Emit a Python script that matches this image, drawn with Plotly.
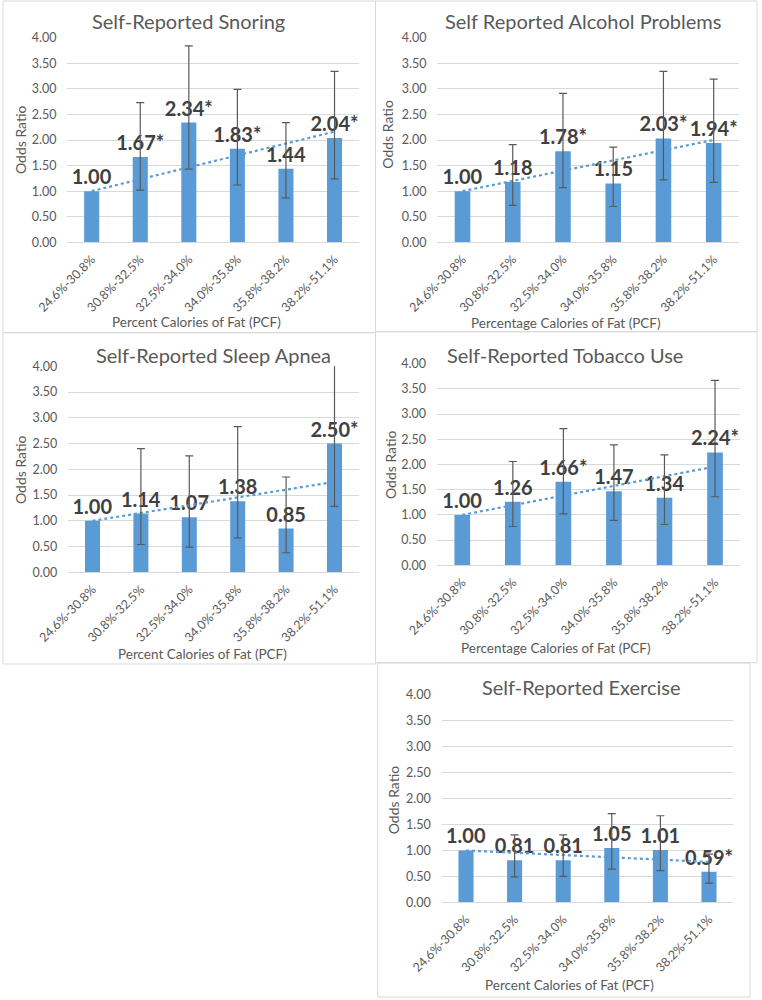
import plotly.graph_objects as go

# ---------------- data ----------------
categories = ["24.6%-30.8%", "30.8%-32.5%", "32.5%-34.0%", "34.0%-35.8%", "35.8%-38.2%", "38.2%-51.1%"]

snoring_or = [1.00, 1.67, 2.34, 1.83, 1.44, 2.04]
snoring_lo = [None, 1.02, 1.43, 1.12, 0.87, 1.24]
snoring_hi = [None, 2.73, 3.84, 2.99, 2.34, 3.34]
snoring_sig = [False, True, True, True, False, True]

alcohol_or = [1.00, 1.18, 1.78, 1.15, 2.03, 1.94]
alcohol_lo = [None, 0.72, 1.07, 0.70, 1.22, 1.17]
alcohol_hi = [None, 1.91, 2.91, 1.86, 3.34, 3.19]
alcohol_sig = [False, False, True, False, True, True]

apnea_or = [1.00, 1.14, 1.07, 1.38, 0.85, 2.50]
apnea_lo = [None, 0.54, 0.49, 0.67, 0.38, 1.28]
apnea_hi = [None, 2.40, 2.26, 2.83, 1.85, 4.88]
apnea_sig = [False, False, False, False, False, True]

tobacco_or = [1.00, 1.26, 1.66, 1.47, 1.34, 2.24]
tobacco_lo = [None, 0.77, 1.02, 0.89, 0.81, 1.36]
tobacco_hi = [None, 2.06, 2.71, 2.39, 2.19, 3.67]
tobacco_sig = [False, False, True, False, False, True]

exercise_or = [1.00, 0.81, 0.81, 1.05, 1.01, 0.59]
exercise_lo = [None, 0.49, 0.50, 0.64, 0.61, 0.37]
exercise_hi = [None, 1.30, 1.30, 1.71, 1.67, 0.93]
exercise_sig = [False, False, False, False, False, True]

titles = ["Self-Reported Snoring", "Self Reported Alcohol Problems", "Self-Reported Sleep Apnea",
          "Self-Reported Tobacco Use", "Self-Reported Exercise"]
xtitles = ["Percent Calories of Fat (PCF)", "Percentage Calories of Fat (PCF)", "Percent Calories of Fat (PCF)",
           "Percentage Calories of Fat (PCF)", "Percent Calories of Fat (PCF)"]
ytitle = "Odds Ratio"
yticks = [0.0, 0.5, 1.0, 1.5, 2.0, 2.5, 3.0, 3.5, 4.0]

# ---------------- layout geometry (pixels) ----------------
W, H = 762, 1000
plot_boxes = [  # x0, x1, y0, y1
    (67.4, 358.8, 37.7, 242.3),
    (437.4, 738.8, 37.7, 242.3),
    (68.3, 358.7, 366.3, 572.3),
    (437.0, 740.3, 363.7, 565.3),
    (441.7, 733.3, 695.0, 902.3),
]
panel_boxes = [
    (3, 375.5, 1, 332.7),
    (375.5, 757, 1, 331.7),
    (3, 375.5, 332.7, 664),
    (375.5, 757, 331.7, 662.7),
    (377.7, 750, 663, 997),
]
title_pos = [(188.8, 20.7), (582.5, 20.7), (213.3, 355.3), (565, 354.7), (581.7, 686.7)]
xtitle_pos = [(196.7, 321.7), (565.8, 322.7), (202.5, 654), (555.8, 648), (569, 985)]
ytitle_pos = [(20, 140), (386.7, 134), (20, 470), (390, 465), (393.3, 800)]

FONT = "Lato"
TXT = "#595959"
BAR = "#5B9BD5"
GRID = "#D9D9D9"

panels = [
    (snoring_or, snoring_lo, snoring_hi, snoring_sig),
    (alcohol_or, alcohol_lo, alcohol_hi, alcohol_sig),
    (apnea_or, apnea_lo, apnea_hi, apnea_sig),
    (tobacco_or, tobacco_lo, tobacco_hi, tobacco_sig),
    (exercise_or, exercise_lo, exercise_hi, exercise_sig),
]

def px(x):
    return x / W

def py(y):
    return 1 - y / H

fig = go.Figure()
annotations = []
shapes = []

for k, (ors, los, his, sig) in enumerate(panels):
    n = "" if k == 0 else str(k + 1)
    xa, ya = "x" + n, "y" + n
    labels = [f"{v:.2f}" + ("*" if s else "") for v, s in zip(ors, sig)]

    fig.add_trace(go.Bar(
        x=categories, y=ors, xaxis=xa, yaxis=ya,
        marker=dict(color=BAR, line=dict(width=0)),
        text=labels, textposition="outside", constraintext="none", cliponaxis=False,
        textfont=dict(family=FONT, size=20, color="#404040", weight="bold"),
        showlegend=False, hoverinfo="skip",
    ))

    # linear trendline anchored at the reference category
    y0 = ors[0]
    num = sum(i * (v - y0) for i, v in enumerate(ors))
    den = sum(i * i for i in range(len(ors)))
    slope = num / den
    trend = [y0 + i * slope for i in range(len(ors))]
    fig.add_trace(go.Scatter(
        x=categories, y=trend, xaxis=xa, yaxis=ya, mode="lines",
        line=dict(color=BAR, width=2.2, dash="dot"),
        showlegend=False, hoverinfo="skip",
    ))

    # confidence intervals (reference category has none)
    idx = [i for i in range(len(ors)) if los[i] is not None]
    fig.add_trace(go.Scatter(
        x=[categories[i] for i in idx], y=[ors[i] for i in idx], xaxis=xa, yaxis=ya,
        mode="markers", marker=dict(size=1, opacity=0),
        error_y=dict(type="data", symmetric=False,
                     array=[his[i] - ors[i] for i in idx],
                     arrayminus=[ors[i] - los[i] for i in idx],
                     color="#595959", thickness=1.2, width=4),
        showlegend=False, hoverinfo="skip",
    ))

    x0, x1, yt, yb = plot_boxes[k]
    axis_name_x = "xaxis" + n
    axis_name_y = "yaxis" + n
    fig.layout[axis_name_x] = dict(
        domain=[px(x0), px(x1)], anchor=ya, type="category", automargin=False,
        showgrid=False, showline=True, linecolor=GRID, linewidth=1,
        ticks="", tickangle=-45, ticklabelstandoff=4,
        tickfont=dict(family=FONT, size=12.5, color=TXT), fixedrange=True,
    )
    fig.layout[axis_name_y] = dict(
        domain=[py(yb), py(yt)], anchor=xa, range=[0, 4], automargin=False,
        tickvals=yticks, tickformat=".2f",
        showgrid=True, gridcolor=GRID, gridwidth=1, zeroline=False,
        showline=False, ticks="", ticklabelstandoff=10,
        tickfont=dict(family=FONT, size=12.5, color=TXT), fixedrange=True,
    )

    tx, ty = title_pos[k]
    annotations.append(dict(text=titles[k], x=px(tx), y=py(ty), xref="paper", yref="paper",
                            xanchor="center", yanchor="middle", showarrow=False,
                            font=dict(family=FONT, size=20, color=TXT)))
    tx, ty = xtitle_pos[k]
    annotations.append(dict(text=xtitles[k], x=px(tx), y=py(ty), xref="paper", yref="paper",
                            xanchor="center", yanchor="middle", showarrow=False,
                            font=dict(family=FONT, size=13.5, color=TXT)))
    tx, ty = ytitle_pos[k]
    annotations.append(dict(text=ytitle, x=px(tx), y=py(ty), xref="paper", yref="paper",
                            xanchor="center", yanchor="middle", showarrow=False, textangle=-90,
                            font=dict(family=FONT, size=14, color=TXT)))

    bx0, bx1, by0, by1 = panel_boxes[k]
    shapes.append(dict(type="rect", xref="paper", yref="paper",
                       x0=px(bx0), x1=px(bx1), y0=py(by1), y1=py(by0),
                       line=dict(color=GRID, width=1), fillcolor="rgba(0,0,0,0)", layer="below"))

fig.update_layout(
    width=W, height=H, autosize=False,
    margin=dict(l=0, r=0, t=0, b=0, pad=0),
    paper_bgcolor="white", plot_bgcolor="white",
    bargap=0.69, showlegend=False,
    annotations=annotations, shapes=shapes,
    font=dict(family=FONT, color=TXT),
)

fig.write_html("out.html",
               config={"displayModeBar": False, "staticPlot": True},
               post_script="document.body.style.margin='0';document.body.style.overflow='hidden';")
